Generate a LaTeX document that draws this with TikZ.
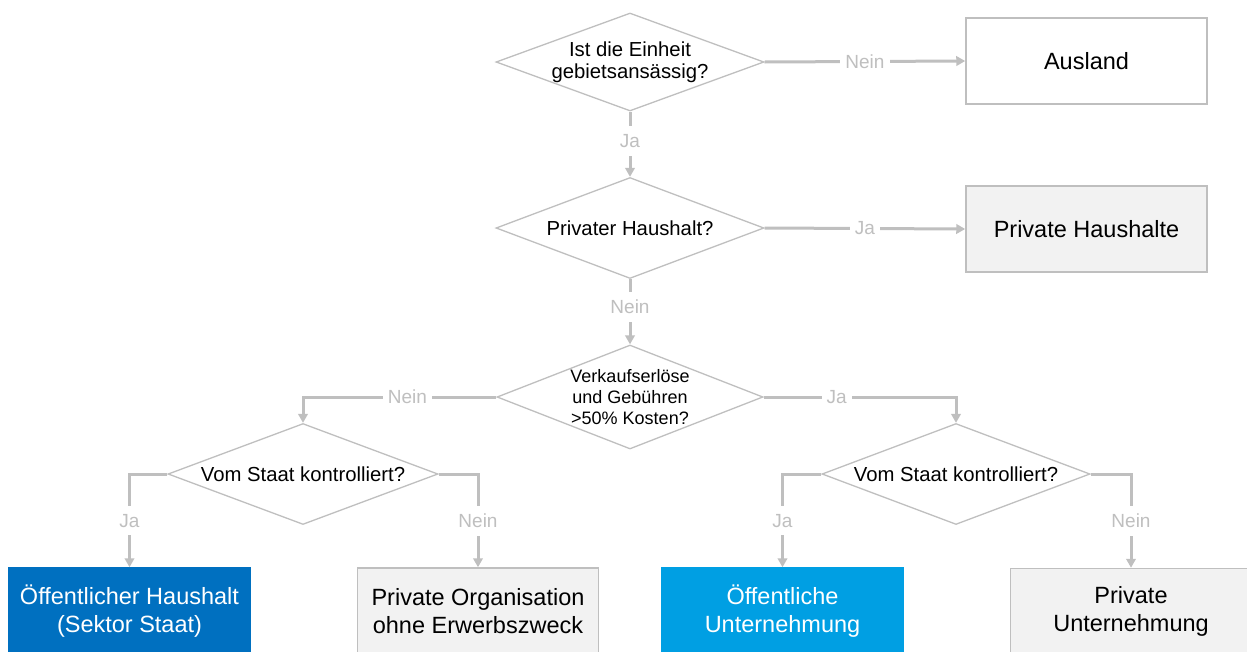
\documentclass[tikz,border=0pt]{standalone}
\usepackage{fontspec}
\setmainfont{Liberation Sans}
\usetikzlibrary{shapes.geometric,arrows.meta}
\definecolor{lc}{HTML}{BFBFBF}
\definecolor{gfill}{HTML}{F2F2F2}
\definecolor{dblue}{HTML}{0070C0}
\definecolor{lblue}{HTML}{009FE3}
\begin{document}
\begin{tikzpicture}[x=1pt,y=-1pt,
 dia/.style={diamond, draw=lc, line width=1.3pt, inner sep=0pt, fill=white},
 diatext/.style={align=center, font=\fontsize{20.3}{22}\selectfont, text=black, inner sep=0pt},
 box/.style={rectangle, draw=lc, line width=1.5pt, minimum width=241pt, minimum height=86pt, align=center, font=\fontsize{23.5}{28}\selectfont, inner sep=0pt},
 conn/.style={draw=lc, line width=3pt, -{Triangle[width=9.5pt,length=9pt]}},
 lab/.style={fill=white, text=lc, font=\fontsize{19}{19}\selectfont, inner xsep=5pt, inner ysep=8pt},
]
\useasboundingbox (0,0) rectangle (1247,651);

% decision diamonds
\node[dia, minimum width=268pt, minimum height=98pt] (d1) at (630,62) {};
\node[dia, minimum width=268pt, minimum height=101pt] (d2) at (630,228) {};
\node[dia, minimum width=266pt, minimum height=104pt] (d3) at (630,397) {};
\node[dia, minimum width=270pt, minimum height=101pt] (d4) at (303,474) {};
\node[dia, minimum width=268pt, minimum height=101pt] (d5) at (956,474) {};

\node[diatext] (t1) at (d1) {Ist die Einheit\\gebietsansässig?};
\node[diatext] (t2) at (d2) {Privater Haushalt?};
\node[diatext, font=\fontsize{18}{21}\selectfont] (t3) at (d3) {Verkaufserlöse\\und Gebühren\\>50\% Kosten?};
\node[diatext] (t4) at (d4) {Vom Staat kontrolliert?};
\node[diatext] (t5) at (d5) {Vom Staat kontrolliert?};

% result boxes
\node[box, fill=white] (aus) at (1086.5,61) {Ausland};
\node[box, fill=gfill] (ph) at (1086.5,229) {Private Haushalte};
\node[box, fill=dblue, draw=dblue, text=white] (b1) at (129.5,611) {Öffentlicher Haushalt\\(Sektor Staat)};
\node[box, fill=gfill] (b2) at (478,611) {Private Organisation\\ohne Erwerbszweck};
\node[box, fill=lblue, draw=lblue, text=white] (b3) at (782.5,611) {Öffentliche\\Unternehmung};
\node[box, fill=gfill] (b4) at (1131,611.5) {Private\\Unternehmung};

% connectors
\draw[conn] (d1.east) -- node[lab]{Nein} (aus.west);
\draw[conn] (d1.south) -- node[lab, pos=0.45]{Ja} (d2.north);
\draw[conn] (d2.east) -- node[lab]{Ja} (ph.west);
\draw[conn] (d2.south) -- node[lab, pos=0.42]{Nein} (d3.north);
\draw[conn] (d3.west) -| node[lab, pos=0.23]{Nein} (d4.north);
\draw[conn] (d3.east) -| node[lab, pos=0.19]{Ja} (d5.north);
\draw[conn] (d4.west) -| node[lab, pos=0.75]{Ja} (b1.north);
\draw[conn] (d4.east) -| node[lab, pos=0.75]{Nein} (b2.north);
\draw[conn] (d5.west) -| node[lab, pos=0.75]{Ja} (b3.north);
\draw[conn] (d5.east) -| node[lab, pos=0.75]{Nein} (b4.north);
\end{tikzpicture}
\end{document}
